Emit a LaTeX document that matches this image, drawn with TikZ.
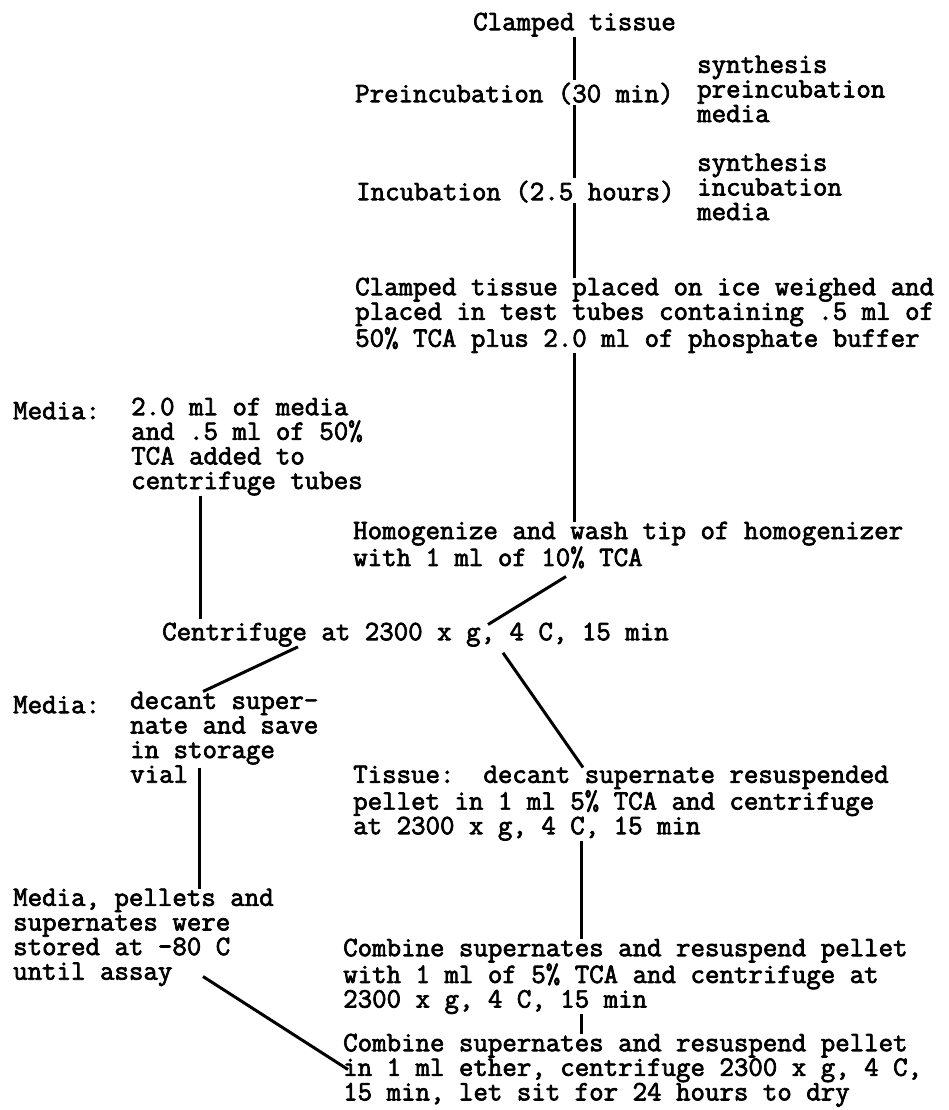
\documentclass[tikz,border=0pt]{standalone}
\usepackage{fontspec}
\newfontfamily\typer{Latin Modern Mono}[FakeBold=2.5]
\usepackage{tikz}
\usetikzlibrary{calc}

\begin{document}
\begin{tikzpicture}[x=1pt, y=-1pt,
  txt/.style={anchor=north west, yshift=21.5pt, inner sep=0pt, align=left, font=\typer\fontsize{28.1pt}{24.6pt}\selectfont, execute at begin node={\rule{0pt}{21.5pt}}},
  link/.style={line width=3pt}]
\useasboundingbox (0,0) rectangle (948,1110);

\node[txt] (clamp) at (473,30) {Clamped tissue};
\node[txt] (preinc) at (355,102) {Preincubation (30 min)};
\node[txt] (synpre) at (697,77) {synthesis\\preincubation\\media};
\node[txt] (incub) at (356,200) {Incubation (2.5 hours)};
\node[txt] (syninc) at (697,175) {synthesis\\incubation\\media};
\node[txt] (placed) at (355,299) {Clamped tissue placed on ice weighed and\\placed in test tubes containing .5 ml of\\50\% TCA plus 2.0 ml of phosphate buffer};

\node[txt] (mediaA) at (13,419) {Media:};
\node[txt] (addtca) at (131,419) {2.0 ml of media\\and .5 ml of 50\%\\TCA added to\\centrifuge tubes};
\node[txt] (homog) at (353,543) {Homogenize and wash tip of homogenizer\\with 1 ml of 10\% TCA};
\node[txt] (centr) at (162,640) {Centrifuge at 2300 x g, 4 C, 15 min};

\node[txt] (mediaB) at (13,713) {Media:};
\node[txt] (decant) at (130,713) {decant super-\\nate and save\\in storage\\vial};
\node[txt] (tissue) at (353,787) {Tissue:\ \ decant supernate resuspended\\pellet in 1 ml 5\% TCA and centrifuge\\at 2300 x g, 4 C, 15 min};

\node[txt] (stored) at (13,910) {Media, pellets and\\supernates were\\stored at -80 C\\until assay};
\node[txt] (comb1) at (343,960) {Combine supernates and resuspend pellet\\with 1 ml of 5\% TCA and centrifuge at\\2300 x g, 4 C, 15 min};
\node[txt] (comb2) at (343,1055) {Combine supernates and resuspend pellet\\in 1 ml ether, centrifuge 2300 x g, 4 C,\\15 min, let sit for 24 hours to dry};

\coordinate (tubes) at ($(addtca.south west)+(69,0)$);
\coordinate (vial) at ($(decant.north west)+(69,76)$);
\coordinate (pellet) at ($(tissue.south west)+(228,0)$);
\coordinate (ether) at ($(comb1.south west)+(238,0)$);

\draw[link] (clamp.south) -- (clamp.south |- preinc.north);
\draw[link] (clamp.south |- preinc.south) -- (clamp.south |- incub.north);
\draw[link] (clamp.south |- incub.south) -- (clamp.south |- placed.north);
\draw[link] (clamp.south |- placed.south) -- (clamp.south |- homog.north);
\draw[link] ($(homog.south west)+(213,8)$) -- ($(centr.north west)+(326,6)$);
\draw[link] (tubes) -- (tubes |- centr.north);
\draw[link] ($(centr.south west)+(136,0)$) -- ($(decant.north west)+(73,0)$);
\draw[link] ($(centr.south west)+(341,6)$) -- ($(tissue.north west)+(230,2)$);
\draw[link] (vial) -- (vial |- stored.north);
\draw[link] (pellet) -- (pellet |- comb1.north);
\draw[link] (ether) -- (ether |- comb2.north);
\draw[link] ($(stored.north west)+(190,88)$) -- ($(comb2.north west)+(5,36)$);

\end{tikzpicture}
\end{document}
